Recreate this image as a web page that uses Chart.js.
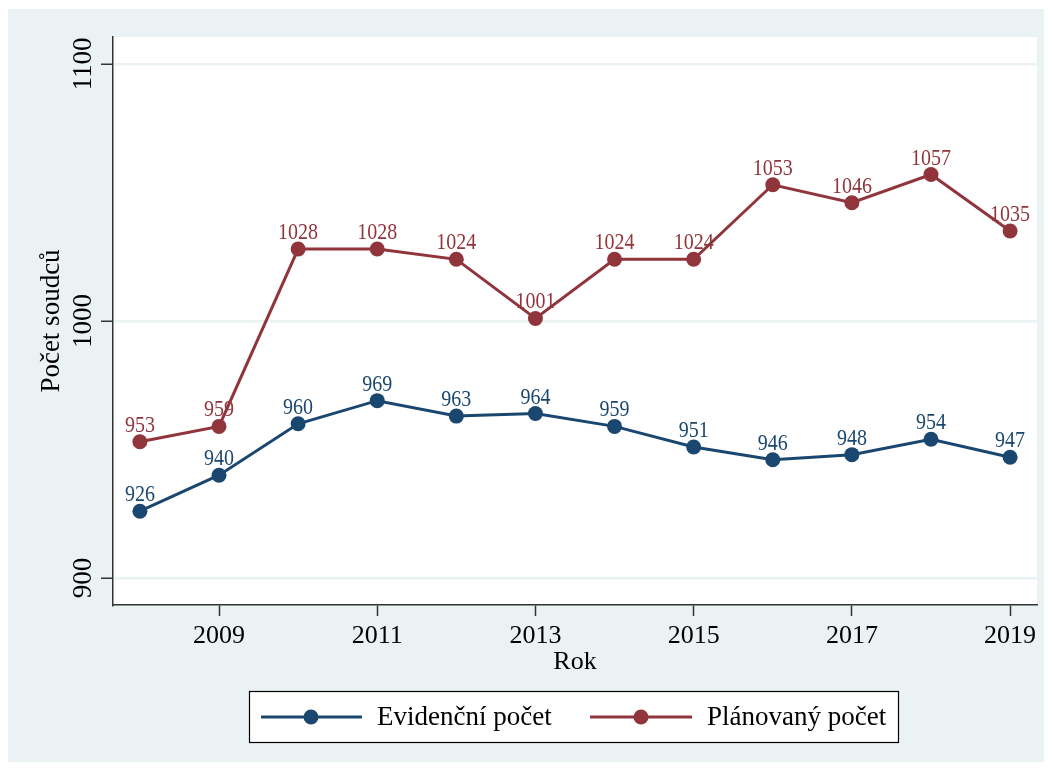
<!DOCTYPE html>
<html>
<head>
<meta charset="utf-8">
<script src="https://cdn.jsdelivr.net/npm/chart.js@4"></script>
<style>
  html, body { margin: 0; padding: 0; background: #ffffff; }
  canvas { display: block; }
</style>
</head>
<body>
<canvas id="c" width="1052" height="769"></canvas>
<script>
const years = [2008, 2009, 2010, 2011, 2012, 2013, 2014, 2015, 2016, 2017, 2018, 2019];
const evidencni = [926, 940, 960, 969, 963, 964, 959, 951, 946, 948, 954, 947];
const planovany = [953, 959, 1028, 1028, 1024, 1001, 1024, 1024, 1053, 1046, 1057, 1035];
const xTicks = [2009, 2011, 2013, 2015, 2017, 2019];
const yTicks = [900, 1000, 1100];
const seriesNames = ['Evidenční počet', 'Plánovaný počet'];
const xTitle = 'Rok';
const yTitle = 'Počet soudců';

const NAVY = '#1A476F';
const MAROON = '#90353B';
const BG = '#EAF2F3';
const FONT = '"Liberation Serif", "Times New Roman", serif';

const bgPlugin = {
  id: 'bg',
  beforeDraw(chart) {
    const ctx = chart.ctx;
    ctx.save();
    ctx.fillStyle = '#ffffff';
    ctx.fillRect(0, 0, chart.width, chart.height);
    ctx.fillStyle = BG;
    ctx.fillRect(8, 9, 1036, 753);
    const a = chart.chartArea;
    ctx.fillStyle = '#ffffff';
    ctx.fillRect(a.left, a.top, a.right - a.left, a.bottom - a.top);
    ctx.restore();
  }
};

const yLabelPlugin = {
  id: 'ylabels',
  afterDraw(chart) {
    const ctx = chart.ctx;
    const ys = chart.scales.y;
    ctx.save();
    ctx.fillStyle = '#000';
    ctx.font = '26px ' + FONT;
    ctx.textAlign = 'center';
    ctx.textBaseline = 'middle';
    ys.ticks.forEach(t => {
      const py = ys.getPixelForValue(t.value);
      ctx.save();
      ctx.translate(84, py);
      ctx.rotate(-Math.PI / 2);
      ctx.scale(1.04, 1.08);
      ctx.fillText(String(t.value), 0, 0);
      ctx.restore();
    });
    ctx.restore();
  }
};

const dataLabelPlugin = {
  id: 'dlabels',
  afterDatasetsDraw(chart) {
    const ctx = chart.ctx;
    ctx.save();
    ctx.font = '20px ' + FONT;
    ctx.textAlign = 'center';
    ctx.textBaseline = 'alphabetic';
    chart.data.datasets.forEach((ds, di) => {
      const meta = chart.getDatasetMeta(di);
      ctx.fillStyle = ds.borderColor;
      meta.data.forEach((el, i) => {
        ctx.save();
        ctx.translate(el.x, el.y - 10);
        ctx.scale(1, 1.18);
        ctx.fillText(String(ds.data[i].y), 0, 0);
        ctx.restore();
      });
    });
    ctx.restore();
  }
};

const legendPlugin = {
  id: 'boxlegend',
  afterDraw(chart) {
    const ctx = chart.ctx;
    ctx.save();
    ctx.fillStyle = '#ffffff';
    ctx.fillRect(249, 691, 649, 51);
    ctx.strokeStyle = '#000';
    ctx.lineWidth = 1.2;
    ctx.strokeRect(249.5, 691.5, 649, 51);
    const cy = 717;
    const items = [
      { x0: 261, x1: 362, mx: 311, tx: 377 },
      { x0: 590, x1: 692, mx: 641, tx: 707 }
    ];
    chart.data.datasets.forEach((ds, i) => {
      const it = items[i];
      ctx.strokeStyle = ds.borderColor;
      ctx.lineWidth = 3;
      ctx.beginPath();
      ctx.moveTo(it.x0, cy);
      ctx.lineTo(it.x1, cy);
      ctx.stroke();
      ctx.fillStyle = ds.borderColor;
      ctx.beginPath();
      ctx.arc(it.mx, cy, 7.5, 0, Math.PI * 2);
      ctx.fill();
      ctx.fillStyle = '#000';
      ctx.font = '27px ' + FONT;
      ctx.textAlign = 'left';
      ctx.textBaseline = 'middle';
      ctx.fillText(ds.label, it.tx, cy + 1);
    });
    ctx.restore();
  }
};

function pts(vals) { return vals.map((v, i) => ({ x: years[i], y: v })); }

new Chart(document.getElementById('c'), {
  type: 'line',
  data: {
    datasets: [
      {
        label: seriesNames[0], data: pts(evidencni),
        borderColor: NAVY, backgroundColor: NAVY,
        pointBackgroundColor: NAVY, pointBorderColor: NAVY,
        borderWidth: 3, pointRadius: 7.5, pointBorderWidth: 0, pointHoverRadius: 7.5, tension: 0
      },
      {
        label: seriesNames[1], data: pts(planovany),
        borderColor: MAROON, backgroundColor: MAROON,
        pointBackgroundColor: MAROON, pointBorderColor: MAROON,
        borderWidth: 3, pointRadius: 7.5, pointBorderWidth: 0, pointHoverRadius: 7.5, tension: 0
      }
    ]
  },
  options: {
    responsive: false,
    animation: false,
    devicePixelRatio: 1,
    layout: { padding: { left: 8, top: 37, right: 15, bottom: 84 } },
    plugins: { legend: { display: false }, tooltip: { enabled: false } },
    scales: {
      x: {
        type: 'linear',
        min: 2007.66, max: 2019.34,
        afterBuildTicks: s => { s.ticks = xTicks.map(v => ({ value: v })); },
        afterFit: s => { s.height = 80; },
        ticks: {
          callback: v => String(v),
          font: { family: FONT, size: 26 }, color: '#000', padding: 5,
          maxRotation: 0, autoSkip: false
        },
        grid: { drawOnChartArea: false, drawTicks: true, tickLength: 11, tickColor: '#333', tickWidth: 1.5 },
        border: { display: true, color: '#333', width: 1.5 },
        title: { display: true, text: xTitle, font: { family: FONT, size: 26 }, color: '#000', padding: { top: 7, bottom: 7 } }
      },
      y: {
        min: 889.5, max: 1110.5,
        afterBuildTicks: s => { s.ticks = yTicks.map(v => ({ value: v })); },
        afterFit: s => { s.width = 105; },
        ticks: { display: false },
        grid: { color: BG, lineWidth: 2.5, drawTicks: true, tickLength: 12, tickColor: '#333', tickWidth: 1.5 },
        border: { display: true, color: '#333', width: 1.5 },
        title: { display: true, text: yTitle, font: { family: FONT, size: 27 }, color: '#000', padding: { top: 28, bottom: 0 } }
      }
    }
  },
  plugins: [bgPlugin, yLabelPlugin, dataLabelPlugin, legendPlugin]
});
</script>
</body>
</html>
